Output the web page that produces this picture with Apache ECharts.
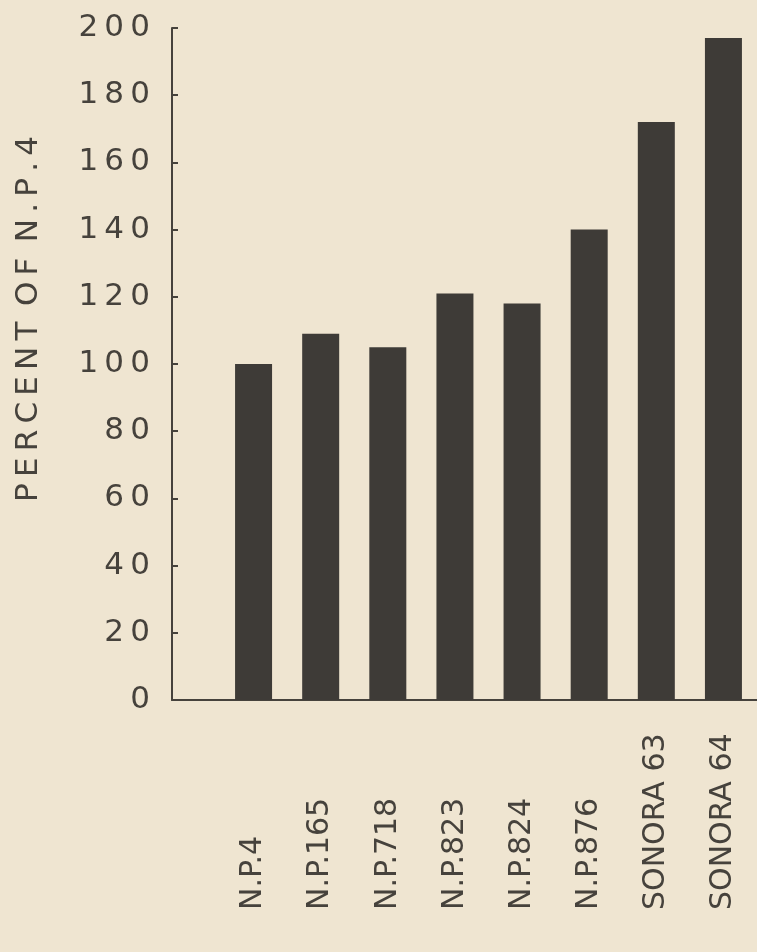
<!DOCTYPE html>
<html>
<head>
<meta charset="utf-8">
<script src="https://cdn.jsdelivr.net/npm/echarts@6/dist/echarts.min.js"></script>
<style>
  html, body { margin: 0; padding: 0; background: #efe5d1; }
  #chart { width: 757px; height: 952px; }
</style>
</head>
<body>
<div id="chart"></div>
<script>
const categories = ['N.P.4', 'N.P.165', 'N.P.718', 'N.P.823', 'N.P.824', 'N.P.876', 'SONORA 63', 'SONORA 64'];
const values = [100, 109, 105, 121, 118, 140, 172, 197];
const yMin = 0, yMax = 200, yStep = 20;
const yTitle = 'PERCENT OF N.P.4';

const INK = '#46423c';
const BAR = '#3e3b37';
const THIN = '\u2009';
const spaced = s => s.split('').join(THIN);

const chart = echarts.init(document.getElementById('chart'), null, { renderer: 'canvas' });
chart.setOption({
  backgroundColor: '#efe5d1',
  animation: false,
  grid: [
    { left: 172, right: 0, top: 28, bottom: 252 },
    { left: 220, right: -5, top: 28, bottom: 252 }
  ],
  xAxis: [
    {
      gridIndex: 0, type: 'value', min: 0, max: 1,
      axisLine: { show: true, lineStyle: { color: INK, width: 2 } },
      axisTick: { show: false }, axisLabel: { show: false }, splitLine: { show: false }
    },
    {
      gridIndex: 1, type: 'category', data: categories,
      axisLine: { show: false }, axisTick: { show: false },
      axisLabel: {
        rotate: 90, align: 'left', verticalAlign: 'middle', margin: 210,
        fontFamily: 'DejaVu Sans', fontSize: 30, color: INK,
        interval: 0
      }
    }
  ],
  yAxis: [
    {
      gridIndex: 0, type: 'value', min: yMin, max: yMax, interval: yStep,
      axisLine: { show: true, lineStyle: { color: INK, width: 2 } },
      axisTick: { show: true, inside: true, length: 6, lineStyle: { color: INK, width: 2 } },
      splitLine: { show: false },
      axisLabel: {
        margin: 22, fontFamily: 'DejaVu Sans', fontSize: 31, color: INK,
        formatter: v => spaced(String(v))
      },
      name: yTitle.split(' ').map(spaced).join('\u2002'),
      nameLocation: 'middle', nameRotate: 90, nameGap: 128,
      nameTextStyle: { fontFamily: 'DejaVu Sans', fontSize: 31, color: INK, padding: [0, 0, 0, 90] }
    },
    {
      gridIndex: 1, type: 'value', min: yMin, max: yMax, interval: yStep, show: false
    }
  ],
  series: [{
    type: 'bar', xAxisIndex: 1, yAxisIndex: 1,
    data: values, barWidth: 37,
    itemStyle: { color: BAR }
  }]
});
</script>
</body>
</html>
